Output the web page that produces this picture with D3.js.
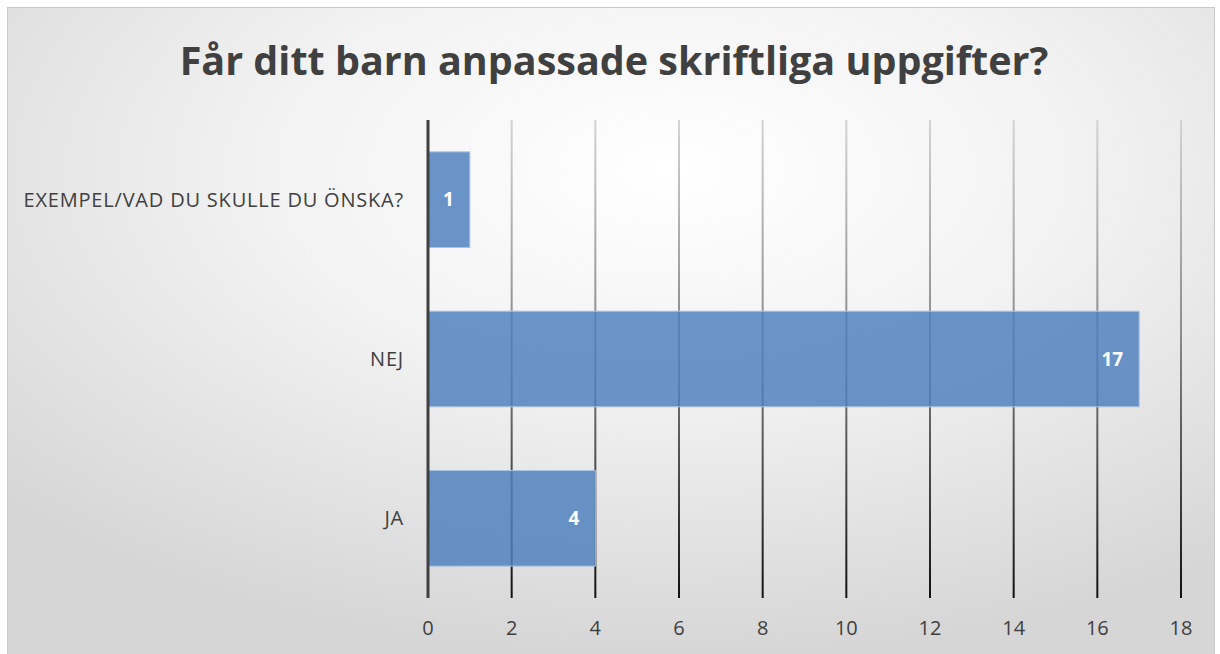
<!DOCTYPE html>
<html>
<head>
<meta charset="utf-8">
<script src="https://d3js.org/d3.v7.min.js"></script>
<style>
  body { margin: 0; background: #fff; }
  svg { display: block; }
</style>
</head>
<body>
<svg id="chart" width="1220" height="654"></svg>
<script>
// chart data
var titleText = "Får ditt barn anpassade skriftliga uppgifter?";
var categories = ["EXEMPEL/VAD DU SKULLE DU ÖNSKA?", "NEJ", "JA"];
var values = [1, 17, 4];
var xTicks = [0, 2, 4, 6, 8, 10, 12, 14, 16, 18];

var svg = d3.select("#chart");
var svgWidth = +svg.attr("width");
var svgHeight = +svg.attr("height");

var padding = {t: 120, r: 39, b: 56, l: 428};

var defs = svg.append("defs");

// background: light center fading to grey at the edges
var bg = defs.append("radialGradient")
  .attr("id", "bgGrad")
  .attr("cx", "55%").attr("cy", "25%").attr("r", "75%");
bg.append("stop").attr("offset", "0%").attr("stop-color", "#ffffff");
bg.append("stop").attr("offset", "45%").attr("stop-color", "#f2f2f2");
bg.append("stop").attr("offset", "100%").attr("stop-color", "#d6d6d6");

// grid lines go light at top to black at bottom
var gg = defs.append("linearGradient")
  .attr("id", "gridGrad")
  .attr("gradientUnits", "userSpaceOnUse")
  .attr("x1", 0).attr("y1", padding.t)
  .attr("x2", 0).attr("y2", svgHeight - padding.b);
gg.append("stop").attr("offset", "0%").attr("stop-color", "#d4d4d4");
gg.append("stop").attr("offset", "45%").attr("stop-color", "#8a8a8a");
gg.append("stop").attr("offset", "100%").attr("stop-color", "#111111");

svg.append("rect")
  .attr("x", 7.5).attr("y", 7.5)
  .attr("width", svgWidth - 13).attr("height", svgHeight - 6)
  .attr("fill", "url(#bgGrad)")
  .attr("stroke", "#c8c8c8")
  .attr("stroke-width", 1);

var x = d3.scaleLinear()
  .domain([0, 18])
  .range([padding.l, svgWidth - padding.r]);

var y = d3.scaleBand()
  .domain(categories)
  .range([padding.t, svgHeight - padding.b])
  .paddingInner(0.4)
  .paddingOuter(0.2);

// grid
svg.append("g")
  .selectAll("rect")
  .data(xTicks.slice(1))
  .enter()
  .append("rect")
  .attr("x", function(d) { return x(d) - 1; })
  .attr("y", padding.t)
  .attr("width", 2)
  .attr("height", svgHeight - padding.b - padding.t)
  .attr("fill", "url(#gridGrad)");

// bars
svg.append("g")
  .selectAll("rect")
  .data(values)
  .enter()
  .append("rect")
  .attr("x", x(0))
  .attr("y", function(d, i) { return y(categories[i]); })
  .attr("width", function(d) { return x(d) - x(0); })
  .attr("height", y.bandwidth())
  .attr("fill", "#4f81bd")
  .attr("fill-opacity", 0.84)
  .attr("stroke", "#a9c2e2")
  .attr("stroke-width", 1);

// value labels
svg.append("g")
  .selectAll("text")
  .data(values)
  .enter()
  .append("text")
  .attr("x", function(d) { return x(d) - 16; })
  .attr("y", function(d, i) { return y(categories[i]) + y.bandwidth() / 2; })
  .attr("dy", "0.35em")
  .attr("text-anchor", "end")
  .attr("fill", "#ffffff")
  .style("font-family", "'Open Sans', sans-serif")
  .style("font-weight", "bold")
  .style("font-size", "19px")
  .text(function(d) { return d; });

// vertical axis line
svg.append("line")
  .attr("x1", x(0)).attr("x2", x(0))
  .attr("y1", padding.t).attr("y2", svgHeight - padding.b)
  .attr("stroke", "#404040")
  .attr("stroke-width", 3);

// category labels
svg.append("g")
  .selectAll("text")
  .data(categories)
  .enter()
  .append("text")
  .attr("x", padding.l - 24)
  .attr("y", function(d) { return y(d) + y.bandwidth() / 2; })
  .attr("dy", "0.35em")
  .attr("text-anchor", "end")
  .attr("fill", "#404040")
  .style("font-family", "'Open Sans', sans-serif")
  .style("font-size", "20px")
  .style("letter-spacing", "0.8px")
  .text(function(d) { return d; });

// x tick labels
svg.append("g")
  .selectAll("text")
  .data(xTicks)
  .enter()
  .append("text")
  .attr("x", function(d) { return x(d); })
  .attr("y", svgHeight - padding.b + 30)
  .attr("dy", "0.35em")
  .attr("text-anchor", "middle")
  .attr("fill", "#404040")
  .style("font-family", "'Open Sans', sans-serif")
  .style("font-size", "20px")
  .text(function(d) { return d; });

// title
svg.append("text")
  .attr("x", 614)
  .attr("y", 61)
  .attr("dy", "0.35em")
  .attr("text-anchor", "middle")
  .attr("fill", "#404040")
  .style("font-family", "'Open Sans', sans-serif")
  .style("font-weight", "bold")
  .style("font-size", "39.5px")
  .text(titleText);
</script>
</body>
</html>
